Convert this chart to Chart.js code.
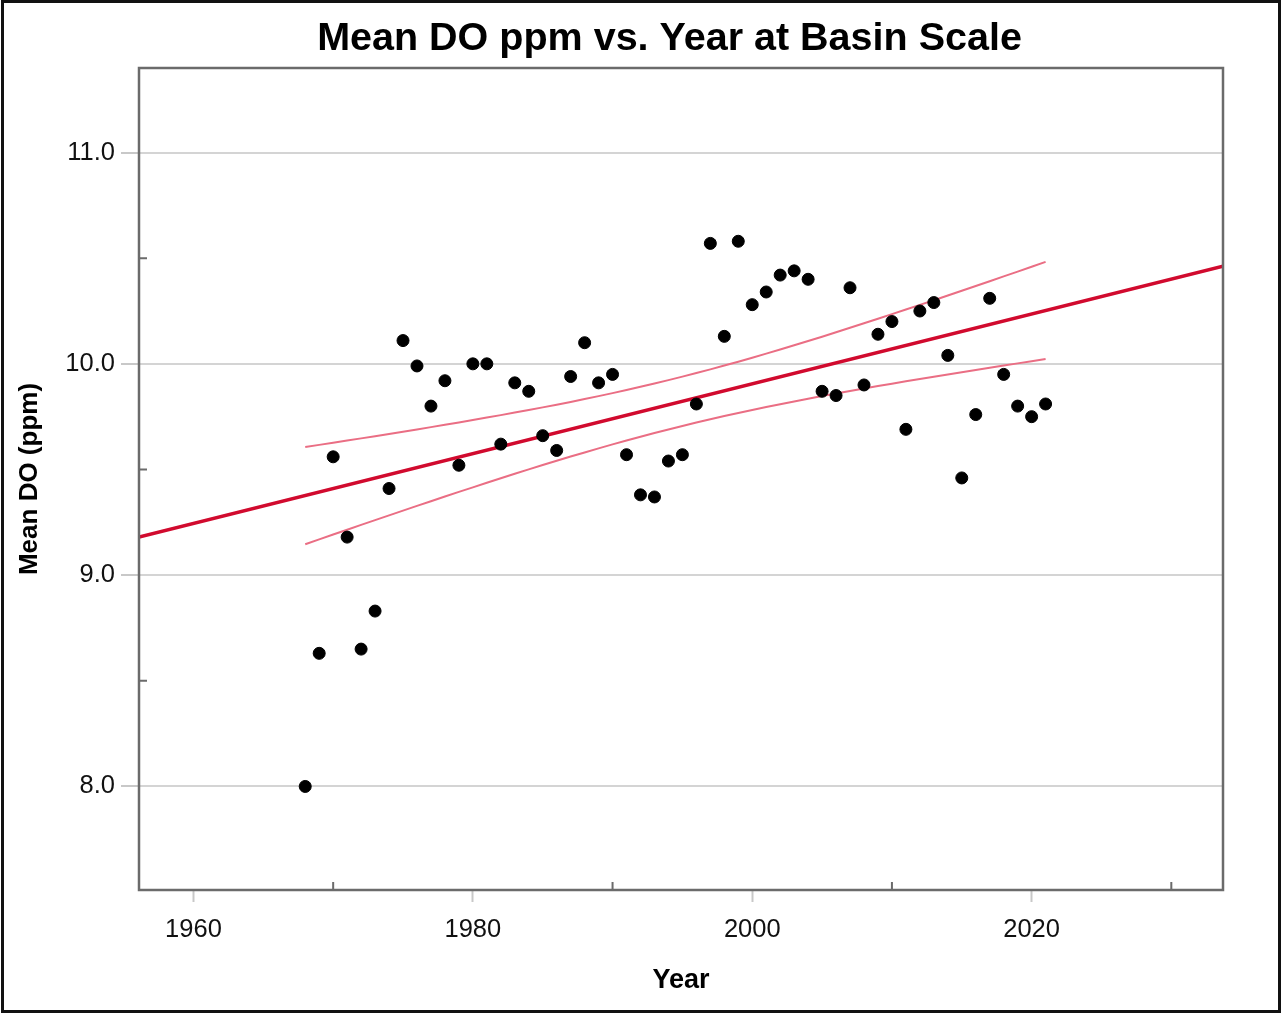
<!DOCTYPE html>
<html>
<head>
<meta charset="utf-8">
<script src="https://cdn.jsdelivr.net/npm/chart.js@4.4.1/dist/chart.umd.min.js"></script>
<style>
  html, body { margin: 0; padding: 0; background: #fff; }
  #wrap { width: 1282px; height: 1013px; }
</style>
</head>
<body>
<div id="wrap"><canvas id="chart" width="1282" height="1013"></canvas></div>
<script>
// --- data ---
const years = [
  1968, 1969, 1970, 1971, 1972, 1973, 1974, 1975, 1976, 1977,
  1978, 1979, 1980, 1981, 1982, 1983, 1984, 1985, 1986, 1987,
  1988, 1989, 1990, 1991, 1992, 1993, 1994, 1995, 1996, 1997,
  1998, 1999, 2000, 2001, 2002, 2003, 2004, 2005, 2006, 2007,
  2008, 2009, 2010, 2011, 2012, 2013, 2014, 2015, 2016, 2017,
  2018, 2019, 2020, 2021
];
const doValues = [
  8.00, 8.63, 9.56, 9.18, 8.65, 8.83, 9.41, 10.11, 9.99, 9.80,
  9.92, 9.52, 10.00, 10.00, 9.62, 9.91, 9.87, 9.66, 9.59, 9.94,
  10.10, 9.91, 9.95, 9.57, 9.38, 9.37, 9.54, 9.57, 9.81, 10.57,
  10.13, 10.58, 10.28, 10.34, 10.42, 10.44, 10.40, 9.87, 9.85, 10.36,
  9.90, 10.14, 10.20, 9.69, 10.25, 10.29, 10.04, 9.46, 9.76, 10.31,
  9.95, 9.80, 9.75, 9.81
];

const xMajorTicks = [1960, 1980, 2000, 2020];
const xMinorTicks = [1970, 1990, 2010, 2030];
const yMajorTicks = [8, 9, 10, 11];
const yMinorTicks = [8.5, 9.5, 10.5];

const X_MIN = 1956.1, X_MAX = 2033.7;
const Y_MIN = 7.51, Y_MAX = 11.40;

// --- linear fit + 95% confidence band for the mean (df = n - 2) ---
const n = years.length;
const mx = years.reduce((a, b) => a + b, 0) / n;
const my = doValues.reduce((a, b) => a + b, 0) / n;
let sxx = 0, sxy = 0;
years.forEach((x, i) => {
  sxx += (x - mx) * (x - mx);
  sxy += (x - mx) * (doValues[i] - my);
});
const slope = sxy / sxx;
const intercept = my - slope * mx;
const predict = x => intercept + slope * x;
let sse = 0;
years.forEach((x, i) => { sse += Math.pow(doValues[i] - predict(x), 2); });
const se = Math.sqrt(sse / (n - 2));
const T_95 = 2.0066; // t(0.975, 52)
const halfBand = x => T_95 * se * Math.sqrt(1 / n + (x - mx) * (x - mx) / sxx);

const FONT = '"Liberation Sans", Arial, sans-serif';

// plot box, minor ticks and outer frame
const framePlugin = {
  id: 'frame',
  afterDatasetsDraw(chart) {
    const ctx = chart.ctx;
    const { left, right, top, bottom } = chart.chartArea;
    const xs = chart.scales.x, ys = chart.scales.y;
    ctx.save();
    ctx.strokeStyle = '#6b6b6b';
    ctx.lineWidth = 2.5;
    ctx.strokeRect(left, top, right - left, bottom - top);

    ctx.lineWidth = 2;
    ctx.beginPath();
    xMinorTicks.forEach(v => {
      const px = xs.getPixelForValue(v);
      ctx.moveTo(px, bottom);
      ctx.lineTo(px, bottom - 8);
    });
    yMinorTicks.forEach(v => {
      const py = ys.getPixelForValue(v);
      ctx.moveTo(left, py);
      ctx.lineTo(left + 8, py);
    });
    ctx.stroke();
    ctx.restore();
  },
  afterDraw(chart) {
    const ctx = chart.ctx;
    ctx.save();
    ctx.strokeStyle = '#111';
    ctx.lineWidth = 3;
    ctx.strokeRect(2.5, 1.5, chart.width - 5, chart.height - 3);
    ctx.restore();
  }
};

const ctx = document.getElementById('chart').getContext('2d');

new Chart(ctx, {
  type: 'scatter',
  data: {
    datasets: [
      {
        label: 'Mean DO',
        data: years.map((x, i) => ({ x: x, y: doValues[i] })),
        backgroundColor: '#000',
        borderColor: '#000',
        pointRadius: 6,
        showLine: false
      },
      {
        label: 'Fit',
        data: [{ x: X_MIN, y: predict(X_MIN) }, { x: X_MAX, y: predict(X_MAX) }],
        borderColor: '#d10a2e',
        borderWidth: 3.5,
        pointRadius: 0,
        showLine: true
      },
      {
        label: 'Upper 95% CI',
        data: years.map(x => ({ x: x, y: predict(x) + halfBand(x) })),
        borderColor: '#ea6e84',
        borderWidth: 2,
        pointRadius: 0,
        showLine: true
      },
      {
        label: 'Lower 95% CI',
        data: years.map(x => ({ x: x, y: predict(x) - halfBand(x) })),
        borderColor: '#ea6e84',
        borderWidth: 2,
        pointRadius: 0,
        showLine: true
      }
    ]
  },
  options: {
    responsive: false,
    animation: false,
    layout: { padding: { left: 57, right: 0, top: 0, bottom: 0 } },
    plugins: {
      legend: { display: false },
      tooltip: { enabled: false },
      title: {
        display: true,
        text: 'Mean DO ppm vs. Year at Basin Scale',
        color: '#000',
        font: { family: FONT, size: 39.5, weight: 'bold', lineHeight: 1.2 },
        padding: { top: 15, bottom: 5.6 }
      }
    },
    scales: {
      x: {
        type: 'linear',
        min: X_MIN,
        max: X_MAX,
        afterBuildTicks: s => { s.ticks = xMajorTicks.map(v => ({ value: v })); },
        afterFit: s => { s.height = 123; },
        ticks: {
          callback: v => String(v),
          color: '#111',
          padding: 13,
          maxRotation: 0,
          font: { family: FONT, size: 25.5 }
        },
        grid: {
          drawOnChartArea: false,
          drawTicks: true,
          tickLength: 12,
          tickColor: '#c8c8c8',
          tickWidth: 2
        },
        border: { display: false },
        title: {
          display: true,
          text: 'Year',
          color: '#000',
          font: { family: FONT, size: 27, weight: 'bold', lineHeight: 1.2 },
          padding: { top: 0, bottom: 16 }
        }
      },
      y: {
        type: 'linear',
        position: 'left',
        min: Y_MIN,
        max: Y_MAX,
        afterBuildTicks: s => { s.ticks = yMajorTicks.map(v => ({ value: v })); },
        afterFit: s => { s.width = 82; },
        ticks: {
          callback: v => v.toFixed(1),
          color: '#111',
          padding: 6,
          font: { family: FONT, size: 25.5 }
        },
        grid: {
          color: '#d4d4d4',
          lineWidth: 2,
          drawTicks: true,
          tickLength: 18,
          tickColor: '#c8c8c8',
          tickWidth: 2
        },
        border: { display: false },
        title: {
          display: true,
          text: 'Mean DO (ppm)',
          color: '#000',
          font: { family: FONT, size: 26, weight: 'bold', lineHeight: 1.2 },
          padding: { top: -42.6, bottom: 0 }
        }
      },
      yRight: {
        type: 'linear',
        position: 'right',
        min: Y_MIN,
        max: Y_MAX,
        afterFit: s => { s.width = 59; },
        ticks: { display: false },
        grid: { display: false },
        border: { display: false }
      }
    }
  },
  plugins: [framePlugin]
});
</script>
</body>
</html>
